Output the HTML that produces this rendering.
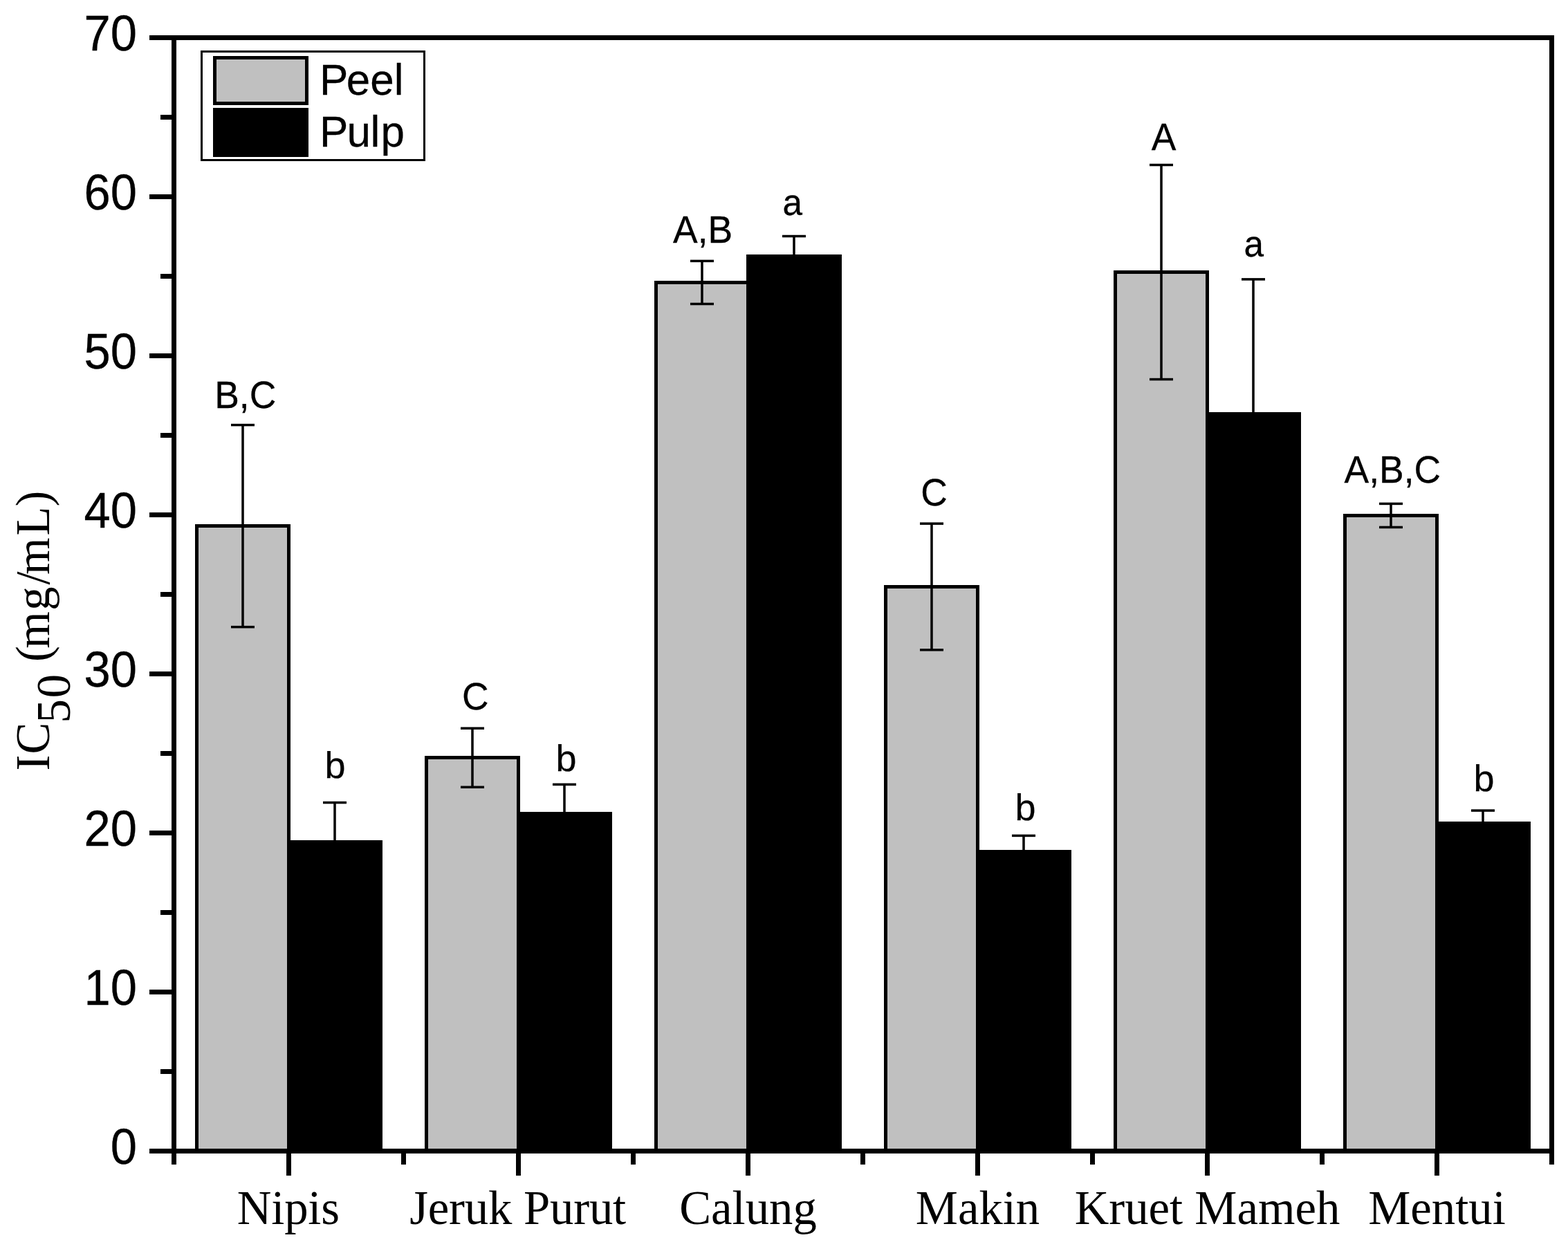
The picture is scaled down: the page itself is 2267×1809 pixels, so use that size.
<!DOCTYPE html>
<html lang="en">
<head>
<meta charset="utf-8">
<title>IC50 (mg/mL)</title>
<style>
html,body{margin:0;padding:0;background:#fff;}
body{width:2267px;height:1809px;overflow:hidden;}
svg{display:block;}
.ax{fill:#000;shape-rendering:crispEdges;}
.peel{fill:#c0c0c0;stroke:#000;stroke-width:5;shape-rendering:crispEdges;}
.pulp{fill:#000;stroke:#000;stroke-width:5;shape-rendering:crispEdges;}
.eb{fill:#000;}
.yt{font-family:'Liberation Sans', Arial, Helvetica, sans-serif;font-size:68.75px;text-anchor:end;fill:#000;stroke:#000;stroke-width:0.3px;}
.xt{font-family:'Liberation Serif', 'Times New Roman', Times, serif;font-size:68.75px;text-anchor:middle;fill:#000;}
.lt{font-family:'Liberation Sans', Arial, Helvetica, sans-serif;font-size:54px;fill:#000;stroke:#000;stroke-width:0.25px;}
.lg{font-family:'Liberation Sans', Arial, Helvetica, sans-serif;font-size:62px;fill:#000;stroke:#000;stroke-width:0.25px;}
.yl{font-family:'Liberation Serif', 'Times New Roman', Times, serif;font-size:68.75px;fill:#000;}
</style>
</head>
<body>
<svg width="2267" height="1809" viewBox="0 0 2267 1809">
<rect x="0" y="0" width="2267" height="1809" fill="#fff"/>
<g id="bars">
<rect class="peel" x="284.5" y="760.6" width="133" height="903.9"/>
<rect class="pulp" x="417.5" y="1217.6" width="133" height="446.9"/>
<rect class="peel" x="616.5" y="1095.7" width="133" height="568.8"/>
<rect class="pulp" x="749.5" y="1176.4" width="133" height="488.1"/>
<rect class="peel" x="948.5" y="408.5" width="133" height="1256.0"/>
<rect class="pulp" x="1081.5" y="370.5" width="133" height="1294.0"/>
<rect class="peel" x="1280.5" y="848.5" width="133" height="816.0"/>
<rect class="pulp" x="1413.5" y="1231.4" width="133" height="433.1"/>
<rect class="peel" x="1612.5" y="393.5" width="133" height="1271.0"/>
<rect class="pulp" x="1745.5" y="598.5" width="133" height="1066.0"/>
<rect class="peel" x="1944.5" y="745.4" width="133" height="919.1"/>
<rect class="pulp" x="2077.5" y="1190.5" width="133" height="474.0"/>
</g>
<g id="errorbars" class="eb">
<rect x="349.25" y="614.55" width="3.50" height="292.10"/>
<rect x="334.00" y="612.80" width="34.00" height="3.50"/>
<rect x="334.00" y="904.90" width="34.00" height="3.50"/>
<rect x="482.25" y="1160.57" width="3.50" height="114.08"/>
<rect x="467.00" y="1158.82" width="34.00" height="3.50"/>
<rect x="467.00" y="1272.90" width="34.00" height="3.50"/>
<rect x="681.25" y="1053.16" width="3.50" height="85.10"/>
<rect x="666.00" y="1051.41" width="34.00" height="3.50"/>
<rect x="666.00" y="1136.51" width="34.00" height="3.50"/>
<rect x="814.25" y="1134.35" width="3.50" height="84.18"/>
<rect x="799.00" y="1132.60" width="34.00" height="3.50"/>
<rect x="799.00" y="1216.78" width="34.00" height="3.50"/>
<rect x="1013.25" y="377.42" width="3.50" height="62.10"/>
<rect x="998.00" y="375.67" width="34.00" height="3.50"/>
<rect x="998.00" y="437.77" width="34.00" height="3.50"/>
<rect x="1146.25" y="341.54" width="3.50" height="57.96"/>
<rect x="1131.00" y="339.79" width="34.00" height="3.50"/>
<rect x="1131.00" y="397.75" width="34.00" height="3.50"/>
<rect x="1345.25" y="757.15" width="3.50" height="182.62"/>
<rect x="1330.00" y="755.40" width="34.00" height="3.50"/>
<rect x="1330.00" y="938.02" width="34.00" height="3.50"/>
<rect x="1478.25" y="1208.41" width="3.50" height="46.00"/>
<rect x="1463.00" y="1206.66" width="34.00" height="3.50"/>
<rect x="1463.00" y="1252.66" width="34.00" height="3.50"/>
<rect x="1677.25" y="238.50" width="3.50" height="310.04"/>
<rect x="1662.00" y="236.75" width="34.00" height="3.50"/>
<rect x="1662.00" y="546.79" width="34.00" height="3.50"/>
<rect x="1810.25" y="403.87" width="3.50" height="389.16"/>
<rect x="1795.00" y="402.12" width="34.00" height="3.50"/>
<rect x="1795.00" y="791.28" width="34.00" height="3.50"/>
<rect x="2009.25" y="728.40" width="3.50" height="34.04"/>
<rect x="1994.00" y="726.65" width="34.00" height="3.50"/>
<rect x="1994.00" y="760.69" width="34.00" height="3.50"/>
<rect x="2142.25" y="1172.07" width="3.50" height="36.80"/>
<rect x="2127.00" y="1170.32" width="34.00" height="3.50"/>
<rect x="2127.00" y="1207.12" width="34.00" height="3.50"/>
</g>
<g id="axes" class="ax">
<rect x="216" y="51" width="2031" height="7"/>
<rect x="216" y="1661" width="2031" height="7"/>
<rect x="248" y="51" width="7" height="1633"/>
<rect x="2240" y="51" width="7" height="1633"/>
<rect x="232" y="1546.0" width="18" height="7"/>
<rect x="216" y="1431.0" width="34" height="7"/>
<rect x="232" y="1316.0" width="18" height="7"/>
<rect x="216" y="1201.0" width="34" height="7"/>
<rect x="232" y="1086.0" width="18" height="7"/>
<rect x="216" y="971.0" width="34" height="7"/>
<rect x="232" y="856.0" width="18" height="7"/>
<rect x="216" y="741.0" width="34" height="7"/>
<rect x="232" y="626.0" width="18" height="7"/>
<rect x="216" y="511.0" width="34" height="7"/>
<rect x="232" y="396.0" width="18" height="7"/>
<rect x="216" y="281.0" width="34" height="7"/>
<rect x="232" y="166.0" width="18" height="7"/>
<rect x="414.0" y="1664" width="7" height="36"/>
<rect x="746.0" y="1664" width="7" height="36"/>
<rect x="580.0" y="1664" width="7" height="20"/>
<rect x="1078.0" y="1664" width="7" height="36"/>
<rect x="912.0" y="1664" width="7" height="20"/>
<rect x="1410.0" y="1664" width="7" height="36"/>
<rect x="1244.0" y="1664" width="7" height="20"/>
<rect x="1742.0" y="1664" width="7" height="36"/>
<rect x="1576.0" y="1664" width="7" height="20"/>
<rect x="2074.0" y="1664" width="7" height="36"/>
<rect x="1908.0" y="1664" width="7" height="20"/>
</g>
<g id="yticklabels">
<text class="yt" transform="translate(198,1683.3) scale(1,1.045)">0</text>
<text class="yt" transform="translate(198,1453.3) scale(1,1.045)">10</text>
<text class="yt" transform="translate(198,1223.3) scale(1,1.045)">20</text>
<text class="yt" transform="translate(198,993.3) scale(1,1.045)">30</text>
<text class="yt" transform="translate(198,763.3) scale(1,1.045)">40</text>
<text class="yt" transform="translate(198,533.3) scale(1,1.045)">50</text>
<text class="yt" transform="translate(198,303.3) scale(1,1.045)">60</text>
<text class="yt" transform="translate(198,73.3) scale(1,1.045)">70</text>
</g>
<g id="xticklabels">
<text class="xt" x="416.8" y="1770" letter-spacing="-0.2">Nipis</text>
<text class="xt" x="748.6" y="1770" letter-spacing="-0.2">Jeruk Purut</text>
<text class="xt" x="1081.5" y="1770">Calung</text>
<text class="xt" x="1413.5" y="1770">Makin</text>
<text class="xt" x="1745.5" y="1770">Kruet Mameh</text>
<text class="xt" x="2077.5" y="1770">Mentui</text>
</g>
<g id="letters">
<text class="lt" transform="translate(310.2,589.6) scale(0.99,1.045)">B,C</text>
<text class="lt" transform="translate(469.5,1125.0) scale(1,1)">b</text>
<text class="lt" transform="translate(668.0,1026.0) scale(0.99,1.045)">C</text>
<text class="lt" transform="translate(803.6,1115.0) scale(1,1)">b</text>
<text class="lt" transform="translate(973.0,351.3) scale(0.99,1.045)">A,B</text>
<text class="lt" transform="translate(1131.4,311.3) scale(0.95,1)">a</text>
<text class="lt" transform="translate(1331.2,730.8) scale(0.99,1.045)">C</text>
<text class="lt" transform="translate(1467.5,1185.7) scale(1,1)">b</text>
<text class="lt" transform="translate(1664.7,216.8) scale(0.99,1.045)">A</text>
<text class="lt" transform="translate(1798.4,371.4) scale(0.95,1)">a</text>
<text class="lt" transform="translate(1943.6,698.3) scale(0.99,1.045)">A,B,C</text>
<text class="lt" transform="translate(2130.5,1144.0) scale(1,1)">b</text>
</g>
<g id="legend">
<rect x="291.5" y="74.5" width="322" height="157" fill="#fff" stroke="#000" stroke-width="3" shape-rendering="crispEdges"/>
<rect class="peel" x="310.5" y="83.5" width="133" height="66"/>
<rect class="pulp" x="310.5" y="158.5" width="133" height="66"/>
<text class="lg" transform="translate(461.9,137) scale(1,1.02)" dx="0 -2.4">Peel</text>
<text class="lg" transform="translate(461.9,211.9) scale(1,1.02)" dx="0 -1.8 -0.5 1.3">Pulp</text>
</g>
<g id="ylabel">
<text class="yl" transform="translate(71,1115.4) rotate(-90)" dx="1 0.65 -1.3 1.65 0 0 -4.15 1.3 2.4 -4.85 2.75 -0.45" dy="0 0 30 0 -30" letter-spacing="0.35">IC50 (mg/mL)</text>
</g>
</svg>
</body>
</html>
